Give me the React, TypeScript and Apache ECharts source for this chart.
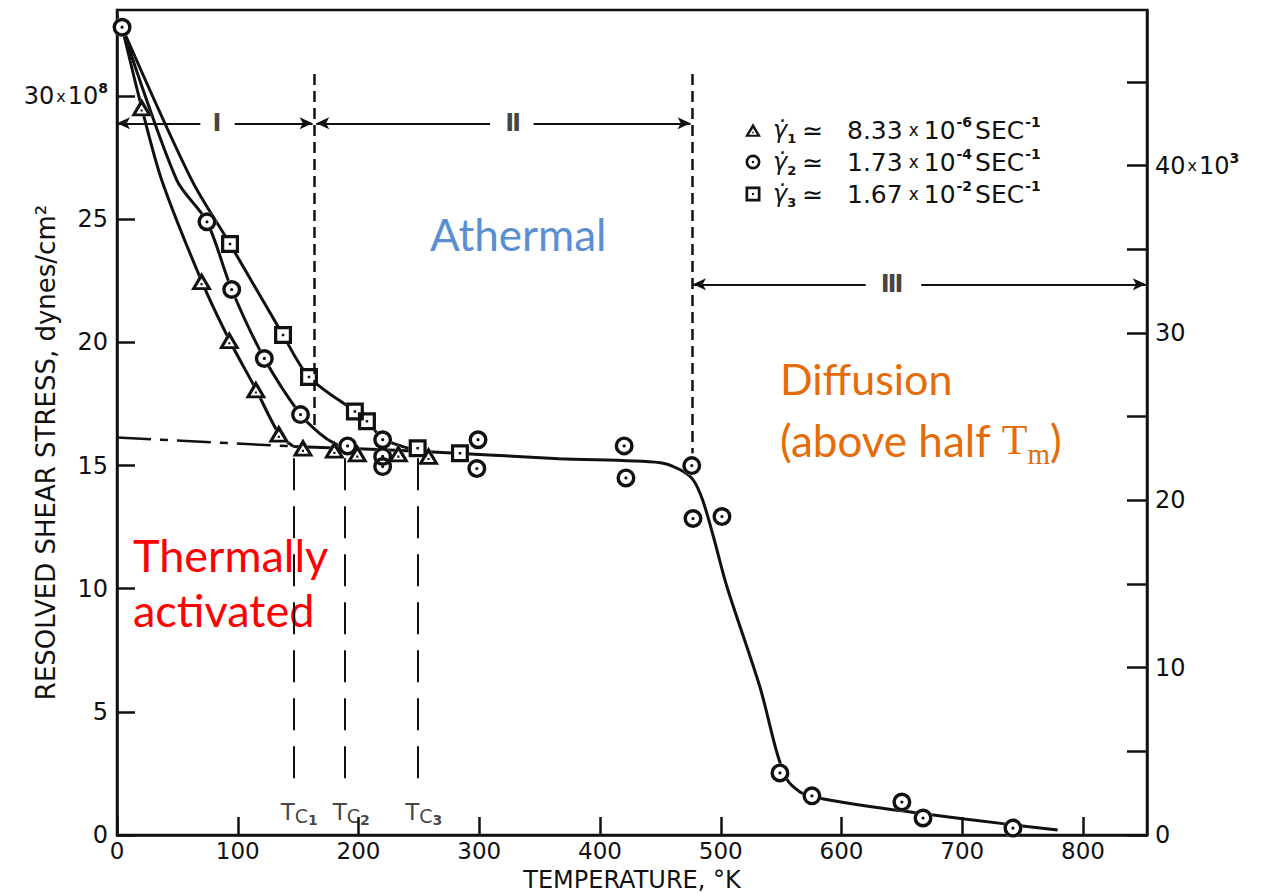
import React, { useEffect, useRef } from 'react';
import * as echarts from 'echarts';

// ---- data ----
const xTickValues = [0, 100, 200, 300, 400, 500, 600, 700, 800];

// gamma1 (triangles)
const triT = [20.4, 70, 93, 115, 134, 154, 180, 199, 233, 258];
const triS = [29.55, 22.5, 20.1, 18.1, 16.3, 15.73, 15.65, 15.5, 15.5, 15.4];
// gamma2 (circles)
const cirT = [4.2, 74.5, 95, 122, 152, 191, 220, 220, 220, 299, 298, 420, 421.5, 476, 477, 501, 549, 575.5, 650, 667.5, 742];
const cirS = [32.8, 24.9, 22.15, 19.35, 17.07, 15.8, 16.05, 15.37, 14.96, 16.05, 14.88, 15.8, 14.5, 15.0, 12.85, 12.93, 2.52, 1.59, 1.34, 0.69, 0.28];
// gamma3 (squares)
const sqT = [93.6, 137.5, 159, 197, 207, 249, 284];
const sqS = [24.0, 20.3, 18.6, 17.2, 16.8, 15.7, 15.5];

// hand-drawn curves
const curve1T = [4.2, 20.4, 37, 70, 93, 115, 134, 146];
const curve1S = [32.8, 29.55, 26.6, 22.5, 20.1, 18.1, 16.3, 15.78];
const curve2T = [4.2, 49.4, 74.5, 95, 122, 152, 168, 180, 191];
const curve2S = [32.8, 26.6, 24.9, 22.15, 19.35, 17.07, 16.3, 15.9, 15.72];
const curve3T = [4.2, 61.8, 93.6, 137.5, 159, 197, 207, 220, 235, 249];
const curve3S = [32.8, 26.6, 24.0, 20.3, 18.6, 17.2, 16.8, 16.1, 15.8, 15.62];
const mainT = [146, 250, 366, 450, 466, 477, 485, 494, 505, 532.5, 546.6, 555, 565.6, 575.5, 615, 702, 779];
const mainS = [15.78, 15.58, 15.28, 15.12, 14.84, 14.43, 13.6, 12.1, 10.1, 6.0, 3.33, 2.24, 1.75, 1.55, 1.22, 0.65, 0.2];
const extT = [0, 146];
const extS = [16.14, 15.78];

// critical temperatures and region borders
const tcT = [146, 189, 249];
const tcNames = ['1', '2', '3'];
const regionT = [163, 476];
const legendRates = ['8.33', '1.73', '1.67'];
const legendExps = ['-6', '-4', '-2'];

const pairs = (xs: number[], ys: number[]) => xs.map((x, i) => [x, ys[i]]);

const TRI = 'path://M10,0 L20,17 L0,17 Z M10,6.2 L4.9,14.4 L15.1,14.4 Z M9,10.6 L11,10.6 L11,12.6 L9,12.6 Z';
const CIR = 'path://M10,0 A10,10 0 1,1 10,20 A10,10 0 1,1 10,0 Z M10,3.6 A6.4,6.4 0 1,0 10,16.4 A6.4,6.4 0 1,0 10,3.6 Z M10,8.3 A1.7,1.7 0 1,1 10,11.7 A1.7,1.7 0 1,1 10,8.3 Z';
const SQ = 'path://M0,0 L20,0 L20,20 L0,20 Z M3.6,3.6 L3.6,16.4 L16.4,16.4 L16.4,3.6 Z M8.6,8.6 L11.4,8.6 L11.4,11.4 L8.6,11.4 Z';

const FONT = 'DejaVu Sans';
const INK = '#111';

function buildOption(): any {
  const curveStyle = { color: INK, width: 3 };
  const lineSeries = (name: string, xs: number[], ys: number[]) => ({
    name,
    type: 'line',
    data: pairs(xs, ys),
    smooth: 0.3,
    showSymbol: false,
    symbol: 'none',
    silent: true,
    lineStyle: curveStyle,
    z: 2,
  });
  const bgSeries = (name: string, xs: number[], ys: number[], symbol: string, size: any) => ({
    name,
    type: 'scatter',
    data: pairs(xs, ys),
    symbol,
    symbolSize: size,
    itemStyle: { color: '#fff', opacity: 1 },
    silent: true,
    z: 3,
  });
  const markerSeries = (name: string, xs: number[], ys: number[], symbol: string, size: any) => ({
    name,
    type: 'scatter',
    data: pairs(xs, ys),
    symbol,
    symbolSize: size,
    itemStyle: { color: INK, opacity: 1 },
    silent: true,
    z: 4,
  });

  const legendText: Record<string, string> = {};
  ['g1', 'g2', 'g3'].forEach((g, i) => {
    legendText[g] = `{g|\u03b3\u0307}{sub|${i + 1}}{t|\u2243   ${legendRates[i]}}{x|x}{t|10}{sup|${legendExps[i]}}{t|SEC}{sup|-1}`;
  });

  const arrowLine = (a: number[], b: number[], startArrow: boolean, endArrow: boolean) => [
    { coord: a, symbol: startArrow ? 'arrow' : 'none', symbolSize: [9, 13] },
    { coord: b, symbol: endArrow ? 'arrow' : 'none', symbolSize: [9, 13] },
  ];

  const romanLabel = { show: true, position: 'inside', fontFamily: FONT, fontWeight: 'bold', fontSize: 24, color: INK };

  const annotations = {
    name: 'annotations',
    type: 'scatter',
    symbolSize: 0,
    silent: true,
    z: 5,
    data: [
      ...tcT.map((t, i) => ({
        value: [t + 5, 0.95],
        label: {
          show: true,
          position: 'inside',
          formatter: `{T|T}{c|C}{n|${tcNames[i]}}`,
          rich: {
            T: { fontFamily: FONT, fontSize: 23, color: INK, lineHeight: 30, verticalAlign: 'middle' },
            c: { fontFamily: FONT, fontSize: 19, color: INK, lineHeight: 30, verticalAlign: 'bottom', padding: [0, 0, 1, 0] },
            n: { fontFamily: FONT, fontSize: 14, color: INK, lineHeight: 30, verticalAlign: 'bottom', fontWeight: 'bold' },
          },
        },
      })),
      { value: [82.8, 28.9], label: { ...romanLabel, formatter: '\u2160' } },
      { value: [328, 28.9], label: { ...romanLabel, formatter: '\u2161' } },
      { value: [642, 22.36], label: { ...romanLabel, formatter: '\u2162' } },
    ],
    markLine: {
      silent: true,
      animation: false,
      label: { show: false },
      lineStyle: { color: INK, width: 2, type: 'solid' },
      emphasis: { disabled: true },
      data: [
        arrowLine([0, 28.9], [69, 28.9], true, false),
        arrowLine([97.5, 28.9], [162, 28.9], false, true),
        arrowLine([165, 28.9], [309, 28.9], true, false),
        arrowLine([345, 28.9], [475, 28.9], false, true),
        arrowLine([477, 22.36], [620, 22.36], true, false),
        arrowLine([666, 22.36], [852, 22.36], false, true),
      ],
    },
  };

  const dashed = {
    name: 'dividers',
    type: 'line',
    data: [],
    silent: true,
    markLine: {
      silent: true,
      animation: false,
      symbol: ['none', 'none'],
      label: { show: false },
      emphasis: { disabled: true },
      data: [
        [{ coord: [regionT[0], 30.9], lineStyle: { color: INK, width: 2.5, type: [11, 6] } }, { coord: [regionT[0], 16.5] }],
        [{ coord: [regionT[1], 30.9], lineStyle: { color: INK, width: 2.5, type: [11, 6] } }, { coord: [regionT[1], 15.5] }],
        ...tcT.map((t) => [
          { coord: [t, 15.3], lineStyle: { color: INK, width: 2, type: [32, 16] } },
          { coord: [t, 1.8] },
        ]),
      ],
    },
  };

  const axisRich = {
    n: { fontFamily: FONT, fontSize: 24, color: INK, lineHeight: 30, verticalAlign: 'middle' },
    x: { fontFamily: FONT, fontSize: 16, color: INK, lineHeight: 30, verticalAlign: 'middle', padding: [0, 2, 0, 2] },
    s: { fontFamily: FONT, fontSize: 14, color: INK, lineHeight: 30, fontWeight: 'bold', verticalAlign: 'top' },
  };

  return {
    animation: false,
    backgroundColor: '#fff',
    grid: {
      left: 117,
      right: 119,
      top: 10,
      bottom: 58,
      show: true,
      borderColor: INK,
      borderWidth: 2.5,
      containLabel: false,
      outerBoundsMode: 'none',
    },
    legend: {
      data: ['g1', 'g2', 'g3'],
      orient: 'vertical',
      left: 740,
      top: 110,
      itemWidth: 16,
      itemHeight: 15,
      itemGap: 2,
      selectedMode: false,
      formatter: (name: string) => legendText[name],
      textStyle: {
        color: INK,
        rich: {
          t: { fontFamily: FONT, fontSize: 25, color: INK, lineHeight: 30, verticalAlign: 'middle' },
          g: { fontFamily: FONT, fontSize: 24, color: INK, lineHeight: 30, fontStyle: 'italic', verticalAlign: 'middle', padding: [0, 0, 0, 7] },
          sub: { fontFamily: FONT, fontSize: 13, color: INK, lineHeight: 30, fontWeight: 'bold', verticalAlign: 'bottom', padding: [0, 6, 0, 0] },
          sup: { fontFamily: FONT, fontSize: 14, color: INK, lineHeight: 30, fontWeight: 'bold', verticalAlign: 'top', padding: [0, 3, 0, 1] },
          x: { fontFamily: FONT, fontSize: 17, color: INK, lineHeight: 30, verticalAlign: 'middle', padding: [0, 5, 0, 6] },
        },
      },
    },
    xAxis: {
      type: 'value',
      min: 0,
      max: 853,
      interval: 100,
      name: 'TEMPERATURE, \u00b0K',
      nameLocation: 'middle',
      nameGap: 33,
      nameMoveOverlap: false,
      nameTextStyle: { fontFamily: FONT, fontSize: 24, color: INK, verticalAlign: 'top' },
      axisLine: { show: true, lineStyle: { color: INK, width: 2.5 } },
      axisTick: { show: true, inside: true, length: 18, lineStyle: { color: INK, width: 2.5 } },
      axisLabel: {
        color: INK,
        fontFamily: FONT,
        fontSize: 23,
        margin: 4,
        showMaxLabel: false,
        formatter: (v: number) => (xTickValues.includes(v) ? String(v) : ''),
      },
      splitLine: { show: false },
    },
    yAxis: [
      {
        type: 'value',
        min: 0,
        max: 33.5,
        interval: 5,
        position: 'left',
        name: 'RESOLVED SHEAR STRESS, dynes/cm\u00b2',
        nameLocation: 'middle',
        nameGap: 58,
        nameMoveOverlap: false,
        nameTextStyle: { fontFamily: FONT, fontSize: 26, color: INK, padding: [0, 60, 0, 0] },
        axisLine: { show: true, lineStyle: { color: INK, width: 2.5 } },
        axisTick: { show: true, inside: true, length: 18, lineStyle: { color: INK, width: 2.5 } },
        axisLabel: {
          color: INK,
          fontFamily: FONT,
          fontSize: 24,
          margin: 9,
          showMaxLabel: false,
          formatter: (v: number) => (v === 30 ? '{n|30}{x|x}{n|10}{s|8}' : `{n|${v}}`),
          rich: axisRich,
        },
        splitLine: { show: false },
      },
      {
        type: 'value',
        min: 0,
        max: 49.3,
        interval: 5,
        position: 'right',
        axisLine: { show: true, lineStyle: { color: INK, width: 2.5 } },
        axisTick: { show: true, inside: true, length: 20, lineStyle: { color: INK, width: 2.5 } },
        axisLabel: {
          color: INK,
          fontFamily: FONT,
          fontSize: 24,
          margin: 8,
          showMaxLabel: false,
          formatter: (v: number) =>
            v % 10 !== 0 ? '' : v === 40 ? '{n|40}{x|x}{n|10}{s|3}' : `{n|${v}}`,
          rich: axisRich,
        },
        splitLine: { show: false },
      },
    ],
    series: [
      {
        name: 'extrapolation',
        type: 'line',
        data: pairs(extT, extS),
        showSymbol: false,
        symbol: 'none',
        silent: true,
        lineStyle: { color: INK, width: 2.5, type: [34, 9, 8, 9] },
        z: 2,
      },
      lineSeries('curve1', curve1T, curve1S),
      lineSeries('curve2', curve2T, curve2S),
      lineSeries('curve3', curve3T, curve3S),
      lineSeries('main', mainT, mainS),
      dashed,
      bgSeries('g1bg', triT, triS, 'triangle', [21, 18]),
      bgSeries('g2bg', cirT, cirS, 'circle', 19),
      bgSeries('g3bg', sqT, sqS, 'rect', 18),
      markerSeries('g1', triT, triS, TRI, [21, 18]),
      markerSeries('g2', cirT, cirS, CIR, 19),
      markerSeries('g3', sqT, sqS, SQ, 18),
      annotations,
    ],
    graphic: [
      { type: 'text', x: 430, y: 234, silent: true, style: { text: 'Athermal', fontFamily: 'Lato', fontSize: 44, fill: '#5a8fd3', verticalAlign: 'middle' } },
      { type: 'text', x: 780, y: 378, silent: true, style: { text: 'Diffusion', fontFamily: 'Lato', fontSize: 43, fill: '#e46c0a', verticalAlign: 'middle' } },
      {
        type: 'text',
        x: 780,
        y: 440,
        silent: true,
        style: {
          text: '{a|(above half }{t|T}{m|m}{a|)}',
          verticalAlign: 'middle',
          rich: {
            a: { fontFamily: 'Lato', fontSize: 44, fill: '#e46c0a', color: '#e46c0a', lineHeight: 56, verticalAlign: 'middle' },
            t: { fontFamily: 'Liberation Serif', fontSize: 42, fill: '#e46c0a', color: '#e46c0a', lineHeight: 56, verticalAlign: 'middle' },
            m: { fontFamily: 'Liberation Serif', fontSize: 29, fill: '#e46c0a', color: '#e46c0a', lineHeight: 56, verticalAlign: 'bottom' },
          },
        },
      },
      { type: 'text', x: 133, y: 555, silent: true, style: { text: 'Thermally', fontFamily: 'Lato', fontSize: 45, fill: '#ff0000', verticalAlign: 'middle' } },
      { type: 'text', x: 133, y: 610, silent: true, style: { text: 'activated', fontFamily: 'Lato', fontSize: 45, fill: '#ff0000', verticalAlign: 'middle' } },
    ],
  };
}

export default function App() {
  const ref = useRef<HTMLDivElement>(null);
  useEffect(() => {
    if (!ref.current) return;
    const chart = echarts.init(ref.current, null, { renderer: 'svg' });
    chart.setOption(buildOption());
    return () => chart.dispose();
  }, []);
  return (
    <div
      ref={ref}
      style={{ position: 'fixed', left: 0, top: 0, width: 1266, height: 893, background: '#fff' }}
    />
  );
}
